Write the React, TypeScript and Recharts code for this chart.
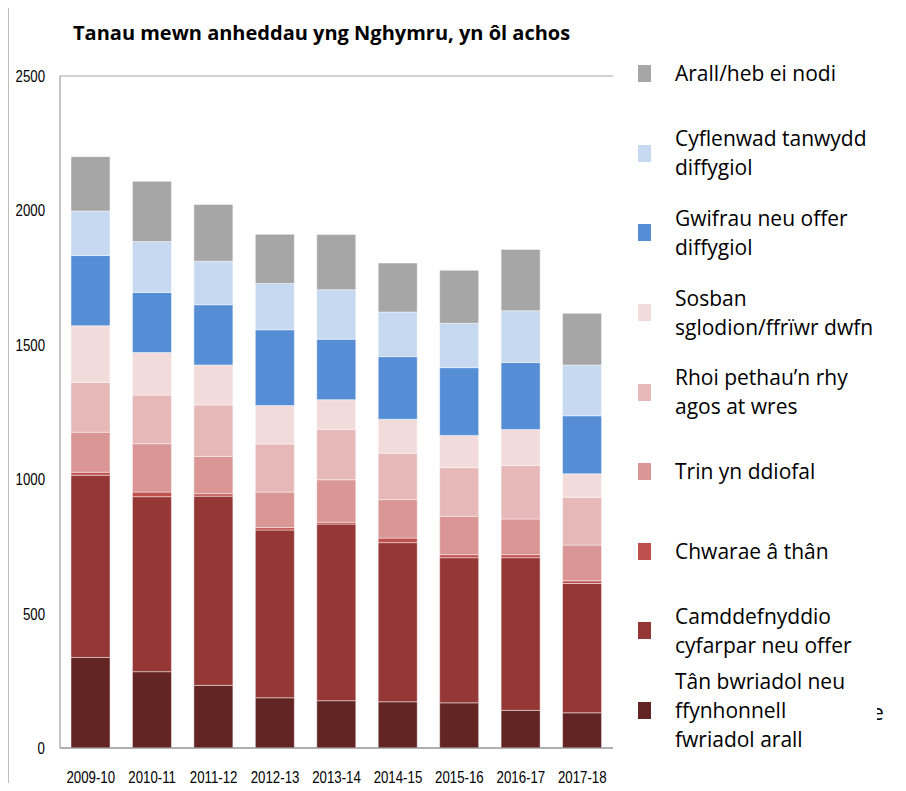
import { Bar, BarChart, CartesianGrid, XAxis, YAxis } from "recharts";

const years = ["2009-10", "2010-11", "2011-12", "2012-13", "2013-14", "2014-15", "2015-16", "2016-17", "2017-18"];

// bottom of the stack first
const tanBwriadol = [337, 284, 233, 187, 176, 172, 168, 140, 131];
const camddefnyddio = [678, 651, 704, 624, 657, 592, 540, 568, 481];
const chwarae = [11, 17, 9, 9, 7, 17, 11, 11, 10];
const trin = [149, 180, 139, 132, 158, 143, 143, 133, 133];
const rhoi = [185, 181, 191, 179, 187, 173, 181, 199, 178];
const sosban = [211, 158, 149, 143, 111, 126, 120, 134, 87];
const gwifrau = [261, 224, 224, 282, 225, 233, 252, 249, 216];
const cyflenwad = [166, 189, 162, 172, 184, 166, 165, 193, 189];
const arall = [202, 224, 211, 183, 205, 182, 197, 228, 192];

const yTicks = [0, 500, 1000, 1500, 2000, 2500];

const series = [
  { key: "tan", name: "Tân bwriadol neu\nffynhonnell\nfwriadol arall", values: tanBwriadol, color: "#632523" },
  { key: "camdd", name: "Camddefnyddio\ncyfarpar neu offer", values: camddefnyddio, color: "#953735" },
  { key: "chwarae", name: "Chwarae â thân", values: chwarae, color: "#C0504D" },
  { key: "trin", name: "Trin yn ddiofal", values: trin, color: "#D99694" },
  { key: "rhoi", name: "Rhoi pethau’n rhy\nagos at wres", values: rhoi, color: "#E6B9B8" },
  { key: "sosban", name: "Sosban\nsglodion/ffrïwr dwfn", values: sosban, color: "#F2DCDB" },
  { key: "gwifrau", name: "Gwifrau neu offer\ndiffygiol", values: gwifrau, color: "#558ED5" },
  { key: "cyflenwad", name: "Cyflenwad tanwydd\ndiffygiol", values: cyflenwad, color: "#C6D9F1" },
  { key: "arall", name: "Arall/heb ei nodi", values: arall, color: "#A6A6A6" },
];

const data = years.map((year, i) => {
  const row: Record<string, string | number> = { year };
  series.forEach((s) => {
    row[s.key] = s.values[i];
  });
  return row;
});

// the axis labels in the original are a squeezed sans, so narrow them by hand
function narrowText(x: number, y: number, anchor: string, value: string | number) {
  return (
    <text
      transform={`translate(${x},${y}) scale(0.78,1)`}
      textAnchor={anchor}
      fontFamily="'Liberation Sans', Arial, sans-serif"
      fontSize={17}
      fill="#000"
    >
      {value}
    </text>
  );
}

const XTick = (props: any) => narrowText(props.x, props.y + 19, "middle", props.payload.value);
const YTick = (props: any) => narrowText(props.x, props.y + 6, "end", props.payload.value);

function LegendList() {
  // legend runs top to bottom in reverse stack order
  const items = [...series].reverse();
  return (
    <div style={{ position: "absolute", left: 638, top: 34 }}>
      {items.map((s) => (
        <div
          key={s.key}
          style={{ height: 79.6, display: "flex", alignItems: "center" }}
        >
          <div style={{ width: 13, height: 17, background: s.color, flexShrink: 0 }} />
          <div
            style={{
              marginLeft: 24,
              whiteSpace: "pre-line",
              fontFamily: "'Open Sans', sans-serif",
              fontSize: 21,
              lineHeight: "29px",
              color: "#000",
            }}
          >
            {s.name}
          </div>
        </div>
      ))}
    </div>
  );
}

export default function App() {
  return (
    <div
      style={{
        position: "relative",
        width: 906,
        height: 791,
        margin: -8,
        overflow: "hidden",
        background: "#fff",
      }}
    >
      <div
        style={{
          position: "absolute",
          left: 8,
          top: 5,
          width: 1000,
          height: 1000,
          borderLeft: "1px solid #bdbdbd",
          borderTop: "1px solid #bdbdbd",
        }}
      />
      <div
        style={{
          position: "absolute",
          left: 73,
          top: 19,
          fontFamily: "'Open Sans', sans-serif",
          fontWeight: 700,
          fontSize: 20,
          color: "#000",
        }}
      >
        Tanau mewn anheddau yng Nghymru, yn ôl achos
      </div>
      <div style={{ position: "absolute", left: 0, top: 0 }}>
        <BarChart
          width={906}
          height={791}
          data={data}
          margin={{ top: 76, right: 293, bottom: 0, left: 0 }}
        >
          <CartesianGrid vertical={false} stroke="#a6a6a6" />
          <XAxis
            dataKey="year"
            height={43}
            tickLine={false}
            tickSize={0}
            tickMargin={16}
            axisLine={{ stroke: "#8c8c8c" }}
            tick={XTick}
            interval={0}
          />
          <YAxis
            yAxisId="left"
            width={60}
            domain={[0, 2500]}
            ticks={yTicks}
            tickLine={false}
            tickSize={0}
            tickMargin={15}
            axisLine={{ stroke: "#8c8c8c" }}
            tick={YTick}
          />
          <YAxis
            yAxisId="right"
            orientation="right"
            width={0}
            domain={[0, 2500]}
            tick={false}
            tickLine={false}
            axisLine={{ stroke: "#d0d0d0" }}
          />
          {series.map((s) => (
            <Bar
              key={s.key}
              yAxisId="left"
              dataKey={s.key}
              name={s.name}
              stackId="a"
              fill={s.color}
              stroke="#ffffff"
              strokeWidth={0.75}
              strokeOpacity={0.6}
              barSize={39}
              isAnimationActive={false}
            />
          ))}
        </BarChart>
      </div>
      <LegendList />
      <div
        style={{
          position: "absolute",
          left: 872,
          top: 698,
          fontFamily: "'Open Sans', sans-serif",
          fontSize: 21,
          lineHeight: "29px",
        }}
      >
        e
      </div>
      <div
        style={{ position: "absolute", left: 868, top: 700, width: 9, height: 26, background: "#fff" }}
      />
    </div>
  );
}
